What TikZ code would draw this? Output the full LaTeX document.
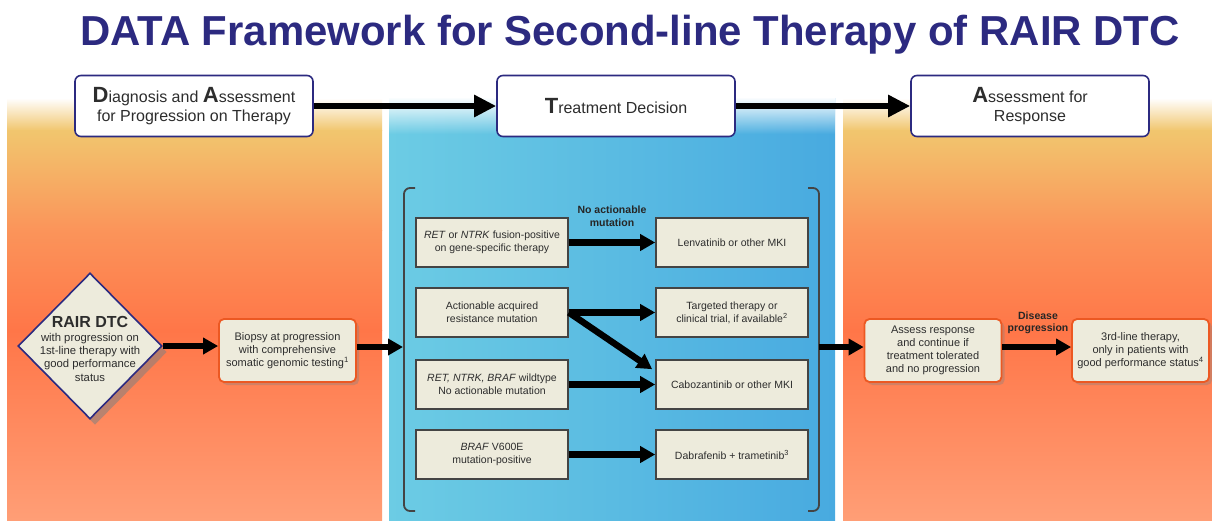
\documentclass[tikz,border=0pt]{standalone}
\usepackage{fontspec}
\setmainfont{Liberation Sans}
\usetikzlibrary{arrows.meta,shapes.geometric,shadows,fadings}
\definecolor{navy}{RGB}{44,42,128}
\definecolor{beige}{RGB}{237,235,220}
\definecolor{orb}{RGB}{236,88,34}
\definecolor{gry}{RGB}{68,68,68}
\definecolor{txt}{RGB}{45,45,45}
\definecolor{yel}{RGB}{241,198,110}
\definecolor{orA}{RGB}{251,148,90}
\definecolor{orB}{RGB}{255,118,72}
\definecolor{orC}{RGB}{255,158,118}
\definecolor{blL}{RGB}{108,204,228}
\definecolor{blR}{RGB}{72,170,224}
\newcommand\orpanel[2]{%
  \shade[top color=white, bottom color=yel] (#1,98) rectangle (#2,130.5);
  \shade[top color=yel, bottom color=orA] (#1,130) rectangle (#2,230.5);
  \shade[top color=orA, bottom color=orB] (#1,230) rectangle (#2,330.5);
  \shade[top color=orB, bottom color=orC] (#1,330) rectangle (#2,520);}
\begin{document}
\begin{tikzpicture}[x=1pt,y=-1pt,
  hdr/.style={draw=navy, line width=1.6pt, fill=white, rounded corners=6pt,
    minimum width=238pt, minimum height=61pt, align=center, inner sep=0pt,
    text=txt, font=\fontsize{16}{19.5}\selectfont},
  obox/.style={draw=orb, line width=1.8pt, fill=beige, rounded corners=5pt,
    minimum width=137pt, minimum height=63pt, align=center, inner sep=0pt,
    text=txt, font=\fontsize{11}{13}\selectfont,
    drop shadow={opacity=0.35, shadow xshift=3pt, shadow yshift=-3pt}},
  mbox/.style={draw=gry, line width=1.6pt, fill=beige,
    minimum width=152pt, minimum height=49pt, align=center, inner sep=0pt,
    text=txt, font=\fontsize{10.5}{13}\selectfont},
  bigarr/.style={line width=6.5pt, -{Triangle[length=22pt,width=21pt]}},
  arr/.style={line width=6.5pt, -{Triangle[length=15pt,width=16pt]}},
  lbl/.style={font=\bfseries\fontsize{10.5}{12.5}\selectfont, align=center, text=black!85}]
\useasboundingbox (0,0) rectangle (1212,520);
\fill[white] (0,0) rectangle (1212,520);
% panels
\orpanel{7}{382}
\orpanel{843}{1212}
\shade[left color=blL, right color=blR] (389,98) rectangle (835,520);
\fill[white, path fading=south] (389,97) rectangle (835,134);
% title
\node[anchor=base, text=navy, font=\bfseries\fontsize{41.9}{45}\selectfont] (title) at (630,45)
  {DATA Framework for Second-line Therapy of RAIR DTC};
% header boxes
\node[hdr] (h1) at (194,106) {{\fontsize{22}{22}\selectfont\bfseries D}iagnosis and {\fontsize{22}{22}\selectfont\bfseries A}ssessment\\for Progression on Therapy};
\node[hdr] (h2) at (616,106) {{\fontsize{22}{22}\selectfont\bfseries T}reatment Decision};
\node[hdr] (h3) at (1030,106) {{\fontsize{22}{22}\selectfont\bfseries A}ssessment for\\Response};
\draw[bigarr] (h1.east) -- (h2.west);
\draw[bigarr] (h2.east) -- (h3.west);
% left panel
\node[diamond, draw=navy, line width=1.6pt, fill=beige, minimum width=144pt,
  minimum height=146pt, inner sep=0pt,
  drop shadow={opacity=0.55, shadow xshift=5pt, shadow yshift=-6pt}] (dia) at (90,346) {};
\node[align=center, text=txt, font=\fontsize{11.3}{13.3}\selectfont] (diat) at (90,349)
  {{\bfseries\fontsize{16}{18}\selectfont RAIR DTC}\\with progression on\\1st-line therapy with\\good performance\\status};
\node[obox] (bio) at (287.5,350.5) {Biopsy at progression\\with comprehensive\\somatic genomic testing\textsuperscript{1}};
\draw[arr] (dia.east) -- (dia.east -| bio.west);
% middle
\draw[gry, line width=1.8pt, rounded corners=6pt] (415,188) -- (404,188) -- (404,511) -- (415,511);
\draw[gry, line width=1.8pt, rounded corners=6pt] (808,188) -- (819,188) -- (819,511) -- (808,511);
\coordinate (lbr) at (403,347);
\coordinate (rbr) at (819,347);
\draw[arr] (bio.east |- lbr) -- (lbr);
\node[mbox] (L1) at (492,242.5) {\textit{RET} or \textit{NTRK} fusion-positive\\on gene-specific therapy};
\node[mbox] (L2) at (492,312.5) {Actionable acquired\\resistance mutation};
\node[mbox] (L3) at (492,384.5) {\textit{RET, NTRK, BRAF} wildtype\\No actionable mutation};
\node[mbox] (L4) at (492,454.5) {\textit{BRAF} V600E\\mutation-positive};
\node[mbox] (R1) at (732,242.5) {Lenvatinib or other MKI};
\node[mbox] (R2) at (732,312.5) {Targeted therapy or\\clinical trial, if available\textsuperscript{2}};
\node[mbox] (R3) at (732,384.5) {Cabozantinib or other MKI};
\node[mbox] (R4) at (732,454.5) {Dabrafenib + trametinib\textsuperscript{3}};
\node[lbl] (nam) at (612,216) {No actionable\\mutation};
\draw[arr] (L1.east) -- (R1.west);
\draw[arr] (L2.east) -- (R2.west);
\draw[arr] (L2.east) -- ([xshift=-3pt,yshift=-10pt]R3.north west);
\draw[arr] (L3.east) -- (R3.west);
\draw[arr] (L4.east) -- (R4.west);
% right panel
\node[obox] (asr) at (933,350.5) {Assess response\\and continue if\\treatment tolerated\\and no progression};
\node[obox] (thr) at (1140.5,350.5) {3rd-line therapy,\\only in patients with\\good performance status\textsuperscript{4}};
\draw[arr] (rbr) -- (rbr -| asr.west);
\draw[arr] (asr.east |- rbr) -- (thr.west |- rbr);
\node[lbl] (dp) at (1038,323) {Disease\\progression};
\end{tikzpicture}
\end{document}
